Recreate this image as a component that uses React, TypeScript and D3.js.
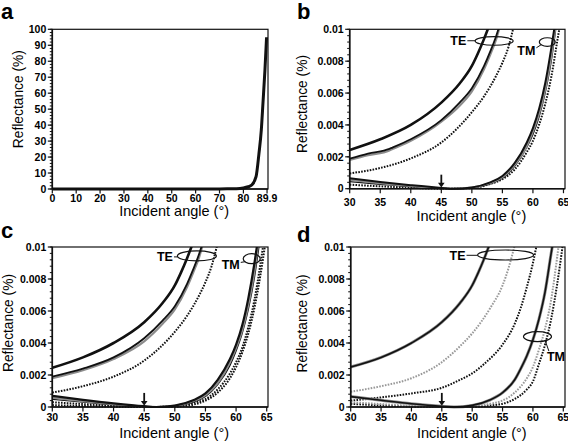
import React from "react";
import * as d3 from "d3";

type Pt = [number, number];

// ---------- axes ----------
const A_X_TICKS = [0, 10, 20, 30, 40, 50, 60, 70, 80, 89.9];
const A_X_LABELS = ["0", "10", "20", "30", "40", "50", "60", "70", "80", "89.9"];
const A_Y_TICKS = [0, 10, 20, 30, 40, 50, 60, 70, 80, 90, 100];
const A_Y_LABELS = ["0", "10", "20", "30", "40", "50", "60", "70", "80", "90", "100"];
const Z_X_TICKS = [30, 35, 40, 45, 50, 55, 60, 65];
const Z_X_LABELS = ["30", "35", "40", "45", "50", "55", "60", "65"];
const Z_Y_TICKS = [0, 0.002, 0.004, 0.006, 0.008, 0.01];
const Z_Y_LABELS = ["0", "0.002", "0.004", "0.006", "0.008", "0.01"];

// ---------- panel a ----------
const A_CURVE: Pt[] = [
  [0, 0.02], [20, 0.02], [40, 0.02], [60, 0.03], [70, 0.06], [75, 0.12], [78.6, 0.3],
  [80, 0.6], [82, 1.4], [83.5, 2.5], [85.3, 7.7], [86.5, 22], [87.5, 37], [88.2, 54],
  [89.0, 74], [89.7, 95],
];

// ---------- panel b ----------
const B_TE1: Pt[] = [[30, 0.00243], [35, 0.0031], [40, 0.004], [45, 0.0054], [48, 0.0066], [50, 0.0077], [51, 0.0085], [52, 0.0094], [53, 0.0104]];
const B_TE2: Pt[] = [[30, 0.00188], [33, 0.0022], [36.5, 0.0025], [37, 0.00258], [40, 0.0031], [45, 0.0043], [48, 0.0054], [50, 0.0063], [52, 0.0077], [53, 0.0086], [54, 0.0096], [54.5, 0.0102]];
const B_TE2G: Pt[] = [[30, 0.0018], [33, 0.0021], [36.5, 0.0024], [37, 0.00249], [40, 0.003], [45, 0.0042], [48, 0.0052], [50, 0.0061], [52, 0.0075], [53, 0.0084], [54, 0.0094], [54.6, 0.0102]];
const B_TE3: Pt[] = [[30, 0.00096], [35, 0.0013], [40, 0.0019], [45, 0.0029], [50, 0.0048], [52, 0.0058], [54, 0.0071], [55, 0.0079], [56, 0.0089], [56.8, 0.0101]];
const B_TM1: Pt[] = [[30, 0.00065], [35, 0.00042], [40, 0.00022], [45, 0.00005], [47, 0], [50, 0.00008], [53, 0.0004], [55, 0.0008], [57, 0.0016], [59, 0.0029], [60, 0.0038], [61, 0.005], [62, 0.0066], [63, 0.0088], [63.6, 0.0103]];
const B_TM2: Pt[] = [[30, 0.00055], [35, 0.00035], [40, 0.00017], [45, 0.00003], [47, 0], [50, 0.00007], [53, 0.00036], [55, 0.00072], [57, 0.0015], [59, 0.0027], [60, 0.0036], [61, 0.0047], [62, 0.0062], [63, 0.0083], [63.7, 0.0102]];
const B_TM3: Pt[] = [[30, 0.00045], [35, 0.00028], [40, 0.00012], [45, 0.00002], [48, 0], [50, 0.00005], [53, 0.0003], [55, 0.00065], [57, 0.0014], [59, 0.0026], [60, 0.0034], [61, 0.0045], [62, 0.006], [63, 0.008], [63.8, 0.0102]];
const B_TM4: Pt[] = [[30, 0.00025], [35, 0.00015], [40, 0.00006], [45, 0], [50, 0.00004], [53, 0.0003], [55, 0.0006], [57, 0.0012], [59, 0.0023], [60, 0.003], [61, 0.004], [62, 0.0053], [63, 0.007], [64, 0.0093], [64.4, 0.0102]];

// ---------- panel c ----------
const C_TE1: Pt[] = [[30, 0.00245], [35, 0.0031], [40, 0.004], [45, 0.0053], [48, 0.0065], [50, 0.0076], [51, 0.0084], [52, 0.0093], [53, 0.0103]];
const C_TE2: Pt[] = [[30, 0.0019], [35, 0.0024], [40, 0.0031], [45, 0.0043], [48, 0.0054], [50, 0.0063], [52, 0.0077], [53, 0.0086], [54, 0.0096], [54.5, 0.0102]];
const C_TE2G: Pt[] = [[30, 0.0018], [35, 0.0023], [40, 0.003], [45, 0.0041], [48, 0.0052], [50, 0.0061], [52, 0.0075], [53, 0.0084], [54, 0.0094], [54.6, 0.0102]];
const C_TE3: Pt[] = [[30, 0.0009], [35, 0.0013], [40, 0.0019], [45, 0.0029], [50, 0.0047], [52, 0.0057], [54, 0.007], [55, 0.0078], [56, 0.0088], [56.9, 0.0101]];
const C_TM1: Pt[] = [[30, 0.0007], [35, 0.00045], [40, 0.00023], [45, 0.00005], [47, 0], [50, 0.00009], [53, 0.00042], [55, 0.00085], [57, 0.0017], [59, 0.003], [60, 0.0039], [61, 0.0051], [62, 0.0068], [63, 0.009], [63.5, 0.0103]];
const C_TM2: Pt[] = [[30, 0.00058], [35, 0.00037], [40, 0.00018], [45, 0.00003], [47, 0], [50, 0.00007], [53, 0.00037], [55, 0.00075], [57, 0.0015], [59, 0.0028], [60, 0.0037], [61, 0.0048], [62, 0.0064], [63, 0.0085], [63.6, 0.0102]];
const C_TM3: Pt[] = [[30, 0.00048], [35, 0.0003], [40, 0.00013], [45, 0.00002], [48, 0], [50, 0.00005], [53, 0.0003], [55, 0.00066], [57, 0.0014], [59, 0.0026], [60, 0.0035], [61, 0.0046], [62, 0.0061], [63, 0.0081], [63.8, 0.0102]];
const C_TM4: Pt[] = [[30, 0.0003], [35, 0.00018], [40, 0.00007], [45, 0], [50, 0.00003], [53, 0.00025], [55, 0.0005], [57, 0.0011], [59, 0.0021], [60, 0.0028], [61, 0.0037], [62, 0.005], [63, 0.0067], [64, 0.009], [64.5, 0.0103]];
const C_TM5: Pt[] = [[30, 0.00012], [35, 0.00006], [40, 0.00002], [45, 0], [50, 0.00002], [53, 0.00015], [55, 0.0004], [57, 0.0009], [59, 0.0018], [60, 0.0025], [61, 0.0034], [62, 0.0046], [63, 0.0062], [64, 0.0083], [64.8, 0.0103]];

// ---------- panel d ----------
const D_TE1: Pt[] = [[30, 0.0025], [35, 0.0031], [40, 0.004], [45, 0.0053], [48, 0.0065], [50, 0.0076], [51, 0.0084], [52, 0.0093], [53, 0.0103]];
const D_TE2: Pt[] = [[30, 0.00095], [35, 0.0013], [40, 0.0018], [45, 0.0028], [48, 0.0038], [50, 0.0046], [53, 0.0062], [55, 0.0076], [56, 0.0087], [57, 0.0101]];
const D_TE3: Pt[] = [[30, 0.0004], [35, 0.0006], [40, 0.00085], [45, 0.0012], [48, 0.0017], [50, 0.0021], [52, 0.0027], [55, 0.0039], [57, 0.0052], [58, 0.0062], [59, 0.0075], [60, 0.009], [60.6, 0.0101]];
const D_TM1: Pt[] = [[30, 0.00065], [35, 0.00042], [40, 0.0002], [45, 0.00004], [47, 0], [50, 0.0001], [53, 0.00045], [55, 0.0009], [57, 0.0017], [58, 0.0024], [59, 0.0032], [60, 0.0042], [61, 0.0055], [62, 0.0072], [63, 0.0096], [63.3, 0.0103]];
const D_TM2: Pt[] = [[30, 0.0003], [35, 0.00018], [40, 0.00007], [45, 0], [50, 0.00003], [53, 0.0002], [55, 0.0004], [57, 0.0009], [59, 0.0018], [60, 0.0025], [61, 0.0036], [62, 0.0049], [63, 0.0067], [64, 0.0094], [64.3, 0.0103]];
const D_TM3: Pt[] = [[30, 0.0002], [35, 0.0001], [40, 0.00003], [45, 0], [50, 0], [53, 0.0001], [55, 0.0002], [57, 0.0005], [59, 0.0011], [60, 0.0016], [61, 0.0027], [62, 0.0039], [63, 0.0055], [64, 0.0077], [64.9, 0.0101]];

type Series = { data: Pt[]; color: string; width: number; dash?: string };
type Ann = {
  kind: "TE" | "TM";
  text: [number, number];
  ell: [number, number];
  rx: number;
  ry: number;
  anchor: "end" | "start";
};

const BLACK = "#111";
const GREY = "#8c8c8c";
const DOT = "1.6 1.3";
const FONT = "'Liberation Sans', Arial, Helvetica, sans-serif";

type PanelProps = {
  id: string;
  letter: string;
  letterPos: [number, number];
  x0: number; x1: number; y0: number; y1: number;
  xDomain: [number, number];
  yDomain: [number, number];
  xTicks: number[]; xLabels: string[];
  yTicks: number[]; yLabels: string[];
  yMinorStep: number;
  series: Series[];
  anns: Ann[];
  arrow?: number;
  tickDy: number;
  titleDy: number;
  yTitleDx: number;
  yTitleDy: number;
};

function Panel(p: PanelProps) {
  const x = d3.scaleLinear().domain(p.xDomain).range([p.x0, p.x1]);
  const y = d3.scaleLinear().domain(p.yDomain).range([p.y1, p.y0]);
  const line = d3
    .line<Pt>()
    .x((d) => x(d[0]))
    .y((d) => y(d[1]))
    .curve(d3.curveMonotoneX);
  const minor = d3.range(p.yDomain[0], p.yDomain[1] + p.yMinorStep / 2, p.yMinorStep);
  const yMid = (p.y0 + p.y1) / 2 + p.yTitleDy;
  const xMid = p.x0 + 0.565 * (p.x1 - p.x0);
  return (
    <g>
      <defs>
        <clipPath id={"clip-" + p.id}>
          <rect x={p.x0} y={p.y0} width={p.x1 - p.x0} height={p.y1 - p.y0 + 2} />
        </clipPath>
      </defs>
      <text x={p.letterPos[0]} y={p.letterPos[1]} fontSize={22} fontWeight="bold" fontFamily={FONT}>
        {p.letter}
      </text>
      <g clipPath={`url(#clip-${p.id})`}>
        {p.series.map((s, i) => (
          <path
            key={i}
            d={line(s.data) || ""}
            fill="none"
            stroke={s.color}
            strokeWidth={s.width}
            strokeDasharray={s.dash}
            strokeLinejoin="round"
          />
        ))}
      </g>
      <rect x={p.x0} y={p.y0} width={p.x1 - p.x0} height={p.y1 - p.y0} fill="none" stroke="#111" strokeWidth={1.2} />
      <line x1={p.x0} x2={p.x0} y1={p.y0} y2={p.y1} stroke="#111" strokeWidth={1.6} />
      <line x1={p.x0} x2={p.x1} y1={p.y1} y2={p.y1} stroke="#111" strokeWidth={1.6} />
      {minor.map((v, i) => (
        <line key={"m" + i} x1={p.x0 - 2.5} x2={p.x0} y1={y(v)} y2={y(v)} stroke="#111" strokeWidth={1} />
      ))}
      {p.yTicks.map((v, i) => (
        <g key={"y" + i}>
          <line x1={p.x0 - 4.5} x2={p.x0} y1={y(v)} y2={y(v)} stroke="#111" strokeWidth={1.2} />
          <text x={p.x0 - 6} y={y(v)} dy="0.36em" textAnchor="end" fontSize={10.5} fontWeight="bold" fontFamily={FONT}>
            {p.yLabels[i]}
          </text>
        </g>
      ))}
      {p.xTicks.map((v, i) => (
        <g key={"x" + i}>
          <line x1={x(v)} x2={x(v)} y1={p.y1} y2={p.y1 + 4.5} stroke="#111" strokeWidth={1.2} />
          <text x={x(v)} y={p.y1 + p.tickDy} textAnchor="middle" fontSize={10.5} fontWeight="bold" fontFamily={FONT}>
            {p.xLabels[i]}
          </text>
        </g>
      ))}
      <text x={xMid} y={p.y1 + p.titleDy} textAnchor="middle" fontSize={14.5} fontFamily={FONT}>
        Incident angle (°)
      </text>
      <text
        transform={`translate(${p.x0 - p.yTitleDx},${yMid}) rotate(-90)`}
        textAnchor="middle"
        dy="0.35em"
        fontSize={13.8}
        fontFamily={FONT}
      >
        Reflectance (%)
      </text>
      {p.arrow !== undefined && (
        <g>
          <line x1={x(p.arrow)} x2={x(p.arrow)} y1={y(0.00088)} y2={y(0.00035)} stroke="#111" strokeWidth={1.8} />
          <path
            d={`M${x(p.arrow) - 3.3},${y(0.00038)} L${x(p.arrow) + 3.3},${y(0.00038)} L${x(p.arrow)},${y(0.00008)} Z`}
            fill="#111"
          />
        </g>
      )}
      {p.anns.map((a, i) => {
        const tx = x(a.text[0]);
        const ty = y(a.text[1]);
        const cx = x(a.ell[0]);
        const cy = y(a.ell[1]);
        let leader: [number, number, number, number];
        if (a.kind === "TE") {
          leader = [tx + 1, ty - 4.5, cx - a.rx, ty - 4.5];
        } else if (a.anchor === "end") {
          leader = [tx + 1, ty - 7, cx - a.rx * 0.75, cy + a.ry * 0.6];
        } else {
          leader = [tx + 2, ty - 9.5, cx + a.rx * 0.55, cy + a.ry * 0.8];
        }
        return (
          <g key={"a" + i}>
            <text x={tx} y={ty} textAnchor={a.anchor} fontSize={12.5} fontWeight="bold" fontFamily={FONT}>
              {a.kind}
            </text>
            <line x1={leader[0]} y1={leader[1]} x2={leader[2]} y2={leader[3]} stroke="#111" strokeWidth={1} />
            <ellipse cx={cx} cy={cy} rx={a.rx} ry={a.ry} fill="none" stroke="#111" strokeWidth={1.2} />
          </g>
        );
      })}
    </g>
  );
}

const solid = (data: Pt[], w = 2.2): Series => ({ data, color: BLACK, width: w });
const grey = (data: Pt[], w = 2.2): Series => ({ data, color: GREY, width: w });
const dotted = (data: Pt[], color = BLACK): Series => ({ data, color, width: 2, dash: DOT });

export default function App() {
  return (
    <svg width={568} height={444} style={{ display: "block", position: "absolute", left: 0, top: 0, background: "#fff" }}>
      <rect width={568} height={444} fill="#fff" />
      <Panel
        id="a"
        letter="a"
        letterPos={[1, 19]}
        x0={52.3} x1={268} y0={29.3} y1={189}
        xDomain={[0, 90.3]} yDomain={[0, 100]}
        xTicks={A_X_TICKS} xLabels={A_X_LABELS}
        yTicks={A_Y_TICKS} yLabels={A_Y_LABELS}
        yMinorStep={2}
        series={[{ data: A_CURVE, color: BLACK, width: 3 }]}
        anns={[]}
        tickDy={13}
        titleDy={27}
        yTitleDx={34}
        yTitleDy={-10}
      />
      <Panel
        id="b"
        letter="b"
        letterPos={[297, 19]}
        x0={349.7} x1={565} y0={29.3} y1={188.7}
        xDomain={[30, 65.25]} yDomain={[0, 0.01]}
        xTicks={Z_X_TICKS} xLabels={Z_X_LABELS}
        yTicks={Z_Y_TICKS} yLabels={Z_Y_LABELS}
        yMinorStep={0.0004}
        series={[
          dotted(B_TE3), grey(B_TE2G), solid(B_TE2, 1.8), solid(B_TE1, 2.6),
          dotted(B_TM4), solid(B_TM3, 1.3), grey(B_TM2), solid(B_TM1, 2),
        ]}
        anns={[
          { kind: "TE", text: [49.1, 0.009], ell: [53.65, 0.00927], rx: 19, ry: 4.3, anchor: "end" },
          { kind: "TM", text: [60.4, 0.0084], ell: [62.35, 0.0092], rx: 8, ry: 4.3, anchor: "end" },
        ]}
        arrow={45}
        tickDy={17.5}
        titleDy={32}
        yTitleDx={47.5}
        yTitleDy={-5}
      />
      <Panel
        id="c"
        letter="c"
        letterPos={[1, 238]}
        x0={52.3} x1={268} y0={247} y1={407}
        xDomain={[30, 65.21]} yDomain={[0, 0.01]}
        xTicks={Z_X_TICKS} xLabels={Z_X_LABELS}
        yTicks={Z_Y_TICKS} yLabels={Z_Y_LABELS}
        yMinorStep={0.0004}
        series={[
          dotted(C_TE3), grey(C_TE2G), solid(C_TE2, 1.8), solid(C_TE1, 2.6),
          dotted(C_TM5), dotted(C_TM4), solid(C_TM3, 1.3), grey(C_TM2), solid(C_TM1, 2.2),
        ]}
        anns={[
          { kind: "TE", text: [49.7, 0.0091], ell: [53.6, 0.00944], rx: 19.5, ry: 5, anchor: "end" },
          { kind: "TM", text: [60.6, 0.0086], ell: [62.55, 0.00927], rx: 8.5, ry: 5, anchor: "end" },
        ]}
        arrow={45}
        tickDy={14}
        titleDy={30.5}
        yTitleDx={44}
        yTitleDy={-4}
      />
      <Panel
        id="d"
        letter="d"
        letterPos={[297, 242]}
        x0={350.7} x1={565} y0={247} y1={407}
        xDomain={[30, 65.28]} yDomain={[0, 0.01]}
        xTicks={Z_X_TICKS} xLabels={Z_X_LABELS}
        yTicks={Z_Y_TICKS} yLabels={Z_Y_LABELS}
        yMinorStep={0.0004}
        series={[
          dotted(D_TE3), dotted(D_TE2, "#999"), grey(D_TE1, 3), solid(D_TE1, 1.6),
          dotted(D_TM3), dotted(D_TM2, "#999"), grey(D_TM1, 3), solid(D_TM1, 1.6),
        ]}
        anns={[
          { kind: "TE", text: [48.9, 0.0092], ell: [55.5, 0.0095], rx: 28, ry: 5, anchor: "end" },
          { kind: "TM", text: [62.3, 0.0029], ell: [60.75, 0.0044], rx: 14, ry: 5, anchor: "start" },
        ]}
        arrow={45}
        tickDy={14}
        titleDy={30.5}
        yTitleDx={48.4}
        yTitleDy={-3.5}
      />
    </svg>
  );
}
